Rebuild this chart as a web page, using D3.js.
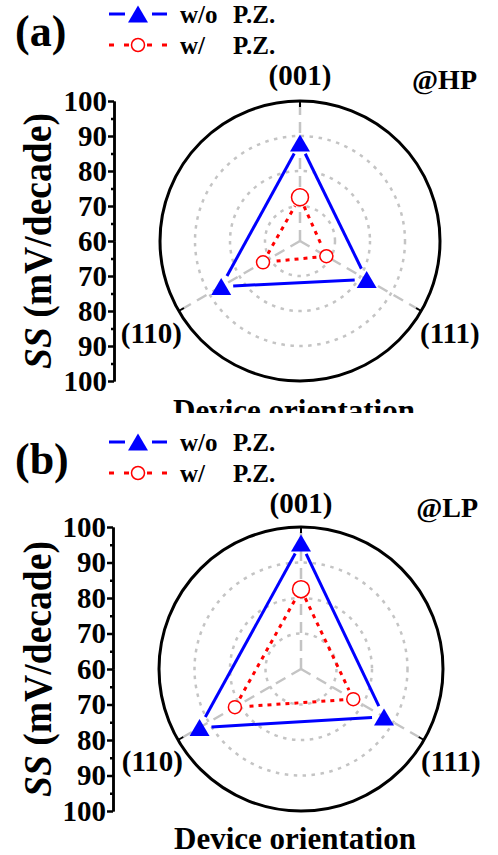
<!DOCTYPE html>
<html>
<head>
<meta charset="utf-8">
<script src="https://cdn.jsdelivr.net/npm/d3@7"></script>
<style>
  body { margin: 0; background: #fff; }
  svg { display: block; font-family: "Liberation Serif", "Times New Roman", serif; font-weight: bold; }
</style>
</head>
<body>
<div id="chart"></div>
<script>
// values (SS in mV/decade)
const orientations = ["(001)", "(111)", "(110)"];
const hpWithout = [88, 82, 86];
const hpWith = [72.5, 68.7, 72.2];
const lpWithout = [95.5, 87, 93];
const lpWith = [82.5, 77, 81.5];
const majorTicks = [60, 70, 80, 90, 100];
const minorTicks = [65, 75, 85, 95];
const gridLevels = [70, 80, 90];
const seriesNames = ["w/o", "w/"];

const width = 498, height = 855;
const angles = [-90, 30, 150].map(a => a * Math.PI / 180);

const panels = [
  { tag: "(a)", cond: "@HP", without: hpWithout, withPZ: hpWith, cx: 300, cy: 241, R: 140, axisX: 114, clip: 413 },
  { tag: "(b)", cond: "@LP", without: lpWithout, withPZ: lpWith, cx: 301, cy: 669, R: 142, axisX: 113, clip: height }
];

const svg = d3.select("#chart")
  .append("svg")
  .attr("width", width)
  .attr("height", height)
  .attr("font-family", "Liberation Serif, Times New Roman, serif");

const tri = "M0,-8.5L10,8.5L-10,8.5Z";

// line through the points, with a gap left around each marker
function gappedSegments(pts, gap) {
  const segs = [];
  for (let i = 0; i < pts.length; i++) {
    const a = pts[i], b = pts[(i + 1) % pts.length];
    const dx = b[0] - a[0], dy = b[1] - a[1];
    const len = Math.hypot(dx, dy);
    const ux = dx / len, uy = dy / len;
    segs.push([a[0] + ux * gap, a[1] + uy * gap, b[0] - ux * gap, b[1] - uy * gap]);
  }
  return segs;
}

panels.forEach((p, k) => {
  const top = k === 0 ? 0 : 413;
  svg.append("clipPath").attr("id", "clip" + k)
    .append("rect").attr("x", 0).attr("y", top).attr("width", width).attr("height", p.clip - top);

  const g = svg.append("g").attr("clip-path", `url(#clip${k})`);
  const r = d3.scaleLinear().domain([60, 100]).range([0, p.R]);
  const pos = (v, i) => [p.cx + r(v) * Math.cos(angles[i]), p.cy + r(v) * Math.sin(angles[i])];

  // panel tag
  g.append("text").attr("x", 15).attr("y", p.cy - 195)
    .attr("font-size", 44).text(p.tag);

  // legend
  const ly1 = p.cy - 227, ly2 = p.cy - 196;
  g.append("line").attr("x1", 109).attr("x2", 125).attr("y1", ly1).attr("y2", ly1)
    .attr("stroke", "#0000ff").attr("stroke-width", 3);
  g.append("line").attr("x1", 152).attr("x2", 167).attr("y1", ly1).attr("y2", ly1)
    .attr("stroke", "#0000ff").attr("stroke-width", 3);
  g.append("path").attr("d", tri).attr("transform", `translate(138,${ly1})`).attr("fill", "#0000ff");
  g.append("line").attr("x1", 109).attr("x2", 131).attr("y1", ly2).attr("y2", ly2)
    .attr("stroke", "#ff0000").attr("stroke-width", 3).attr("stroke-dasharray", "5,10");
  g.append("line").attr("x1", 147).attr("x2", 168).attr("y1", ly2).attr("y2", ly2)
    .attr("stroke", "#ff0000").attr("stroke-width", 3).attr("stroke-dasharray", "5,10");
  g.append("circle").attr("cx", 138).attr("cy", ly2).attr("r", 6.5)
    .attr("fill", "#fff").attr("stroke", "#ff0000").attr("stroke-width", 1.5);
  [ly1, ly2].forEach((ly, i) => {
    g.append("text").attr("x", 180).attr("y", ly + 9).attr("font-size", 25).text(seriesNames[i]);
    g.append("text").attr("x", 233).attr("y", ly + 9).attr("font-size", 25).text("P.Z.");
  });

  // grid circles
  g.selectAll(".grid").data(gridLevels).enter().append("circle")
    .attr("cx", p.cx).attr("cy", p.cy).attr("r", d => r(d))
    .attr("fill", "none").attr("stroke", "#c4c4c4").attr("stroke-width", 2.5)
    .attr("stroke-dasharray", "3.5,5.5");

  // spokes
  angles.forEach(a => {
    g.append("line").attr("x1", p.cx).attr("y1", p.cy)
      .attr("x2", p.cx + p.R * Math.cos(a)).attr("y2", p.cy + p.R * Math.sin(a))
      .attr("stroke", "#c4c4c4").attr("stroke-width", 2.5).attr("stroke-dasharray", "11,7");
    g.append("line")
      .attr("x1", p.cx + (p.R - 6) * Math.cos(a)).attr("y1", p.cy + (p.R - 6) * Math.sin(a))
      .attr("x2", p.cx + p.R * Math.cos(a)).attr("y2", p.cy + p.R * Math.sin(a))
      .attr("stroke", "#000").attr("stroke-width", 2);
  });

  // outer ring
  g.append("circle").attr("cx", p.cx).attr("cy", p.cy).attr("r", p.R)
    .attr("fill", "none").attr("stroke", "#000").attr("stroke-width", 3);

  // w/o P.Z.
  const ptsA = p.without.map(pos);
  g.selectAll(".segA").data(gappedSegments(ptsA, 12)).enter().append("line")
    .attr("x1", d => d[0]).attr("y1", d => d[1]).attr("x2", d => d[2]).attr("y2", d => d[3])
    .attr("stroke", "#0000ff").attr("stroke-width", 3);
  g.selectAll(".triA").data(ptsA).enter().append("path")
    .attr("d", tri).attr("transform", d => `translate(${d[0]},${d[1]})`).attr("fill", "#0000ff");

  // w/ P.Z.
  const ptsB = p.withPZ.map(pos);
  g.selectAll(".segB").data(gappedSegments(ptsB, 10)).enter().append("line")
    .attr("x1", d => d[0]).attr("y1", d => d[1]).attr("x2", d => d[2]).attr("y2", d => d[3])
    .attr("stroke", "#ff0000").attr("stroke-width", 3).attr("stroke-dasharray", "4,5");
  g.selectAll(".cirB").data(ptsB).enter().append("circle")
    .attr("cx", d => d[0]).attr("cy", d => d[1]).attr("r", (d, i) => i === 0 ? 8.5 : 6.5)
    .attr("fill", "#fff").attr("stroke", "#ff0000").attr("stroke-width", 1.5);

  // orientation labels
  g.append("text").attr("x", p.cx).attr("y", p.cy - 156).attr("text-anchor", "middle")
    .attr("font-size", 29).text(orientations[0]);
  g.append("text").attr("x", p.cx + 120).attr("y", p.cy + 102)
    .attr("font-size", 29).text(orientations[1]);
  g.append("text").attr("x", p.cx - 118).attr("y", p.cy + 102).attr("text-anchor", "end")
    .attr("font-size", 29).text(orientations[2]);
  g.append("text").attr("x", p.cx + 177).attr("y", p.cy - 152).attr("text-anchor", "end")
    .attr("font-size", 28).text(p.cond);
  g.append("text").attr("x", p.cx - 6).attr("y", p.cy + 180).attr("text-anchor", "middle")
    .attr("font-size", 31).text("Device orientation");

  // mirrored SS axis on the left
  const yTop = d3.scaleLinear().domain([60, 100]).range([p.cy, p.cy - p.R]);
  const yBot = d3.scaleLinear().domain([60, 100]).range([p.cy, p.cy + p.R]);
  const axG = g.append("g").attr("transform", `translate(${p.axisX},0)`);
  axG.append("g").call(d3.axisLeft(yTop).tickValues(majorTicks).tickSize(6).tickPadding(1).tickSizeOuter(0));
  axG.append("g").call(d3.axisLeft(yBot).tickValues(majorTicks.slice(1)).tickSize(6).tickPadding(1).tickSizeOuter(0));
  axG.append("g").call(d3.axisLeft(yTop).tickValues(minorTicks).tickSize(3).tickFormat("").tickSizeOuter(0));
  axG.append("g").call(d3.axisLeft(yBot).tickValues(minorTicks).tickSize(3).tickFormat("").tickSizeOuter(0));
  axG.selectAll("g").attr("font-family", "Liberation Serif, Times New Roman, serif");
  axG.selectAll(".domain").attr("stroke", "#000").attr("stroke-width", 2.5);
  axG.selectAll(".tick line").attr("stroke", "#000").attr("stroke-width", 2.5);
  axG.selectAll(".tick text").attr("font-size", 29).attr("font-weight", "bold").attr("fill", "#000");

  const title = g.append("text").attr("transform", `translate(51,${p.cy}) rotate(-90)`)
    .attr("text-anchor", "middle").attr("font-size", 40)
    .attr("textLength", 256).attr("lengthAdjust", "spacingAndGlyphs");
  title.append("tspan").attr("font-style", "italic").text("SS");
  title.append("tspan").text(" (mV/decade)");
});
</script>
</body>
</html>
